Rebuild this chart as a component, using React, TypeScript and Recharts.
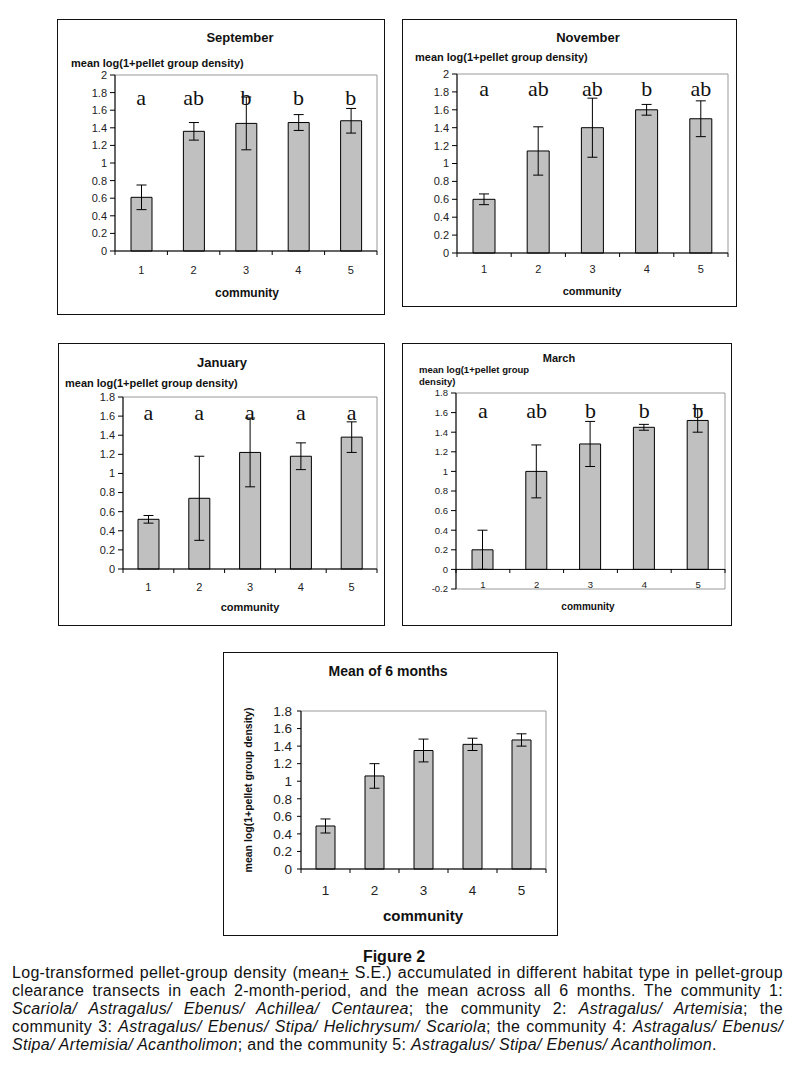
import React from "react";
import {
  ComposedChart,
  Bar,
  Line,
  XAxis,
  YAxis,
  ErrorBar,
  LabelList,
  ReferenceArea,
  ReferenceLine,
} from "recharts";

const SANS = "'Liberation Sans', Arial, sans-serif";
const SERIF = "'Liberation Serif', 'Times New Roman', serif";

// communities 1..5 on the x axis, half steps carry the tick marks between bars
const communities = [1, 2, 3, 4, 5];
const xTicks = [0.5, 1, 1.5, 2, 2.5, 3, 3.5, 4, 4.5, 5, 5.5];

const sepMeans = [0.61, 1.36, 1.45, 1.46, 1.48];
const sepErrors = [0.14, 0.1, 0.3, 0.09, 0.14];
const sepLetters = ["a", "ab", "b", "b", "b"];

const novMeans = [0.6, 1.14, 1.4, 1.6, 1.5];
const novErrors = [0.06, 0.27, 0.33, 0.06, 0.2];
const novLetters = ["a", "ab", "ab", "b", "ab"];

const janMeans = [0.52, 0.74, 1.22, 1.18, 1.38];
const janErrors = [0.04, 0.44, 0.36, 0.14, 0.16];
const janLetters = ["a", "a", "a", "a", "a"];

const marMeans = [0.2, 1.0, 1.28, 1.45, 1.52];
const marErrors = [0.2, 0.27, 0.23, 0.03, 0.12];
const marLetters = ["a", "ab", "b", "b", "b"];

const allMeans = [0.49, 1.06, 1.35, 1.42, 1.47];
const allErrors = [0.08, 0.14, 0.13, 0.07, 0.07];

const ticks0to2 = [0, 0.2, 0.4, 0.6, 0.8, 1, 1.2, 1.4, 1.6, 1.8, 2];
const ticks0to18 = [0, 0.2, 0.4, 0.6, 0.8, 1, 1.2, 1.4, 1.6, 1.8];
const ticksMar = [-0.2, 0, 0.2, 0.4, 0.6, 0.8, 1, 1.2, 1.4, 1.6, 1.8];

const Y_LABEL = "mean log(1+pellet group density)";

function buildRows(means: number[], errors: number[], letters?: string[], level?: number) {
  return communities.map((c, i) => ({
    community: c,
    mean: means[i],
    err: errors[i],
    letter: letters ? letters[i] : "",
    letterY: level,
  }));
}

const CommunityTick = (props: any) => {
  const { x, y, payload, lift, gap, fontSize } = props;
  const y0 = y - lift;
  if (payload.value % 1 !== 0) {
    return <line x1={x} x2={x} y1={y0} y2={y0 + 4} stroke="#000" />;
  }
  return (
    <text x={x} y={y0 + gap} textAnchor="middle" fontSize={fontSize} fill="#222" fontFamily={SANS}>
      {payload.value}
    </text>
  );
};

const LetterLabel = (props: any) => {
  const x = props.x ?? props.viewBox?.x;
  const y = props.y ?? props.viewBox?.y;
  if (!props.value) return null;
  return (
    <text x={x} y={y} textAnchor="middle" fontSize={22} fontFamily={SERIF} fill="#111">
      {props.value}
    </text>
  );
};

type PanelProps = {
  left: number;
  top: number;
  width: number;
  height: number;
  rows: any[];
  yDomain: [number, number];
  yTicks: number[];
  yAxisWidth: number;
  margin: { top: number; right: number; bottom: number; left: number };
  xAxisHeight: number;
  barSize: number;
  tickFont: number;
  yTickSize: number;
  yTickMargin: number;
  labelGap: number;
  lift?: number;
  zeroAxis?: boolean;
  letters?: boolean;
};

function Panel(p: PanelProps) {
  const lift = p.lift ?? 0;
  return (
    <>
      <div
        style={{
          position: "absolute",
          left: p.left,
          top: p.top,
          width: p.width,
          height: p.height,
          border: "1px solid #111",
          boxSizing: "border-box",
        }}
      />
      <div style={{ position: "absolute", left: p.left, top: p.top }}>
        <ComposedChart width={p.width} height={p.height} data={p.rows} margin={p.margin}>
          <ReferenceArea
            x1={0.5}
            x2={5.5}
            y1={p.yDomain[0]}
            y2={p.yDomain[1]}
            fill="none"
            stroke="#999"
            strokeWidth={1}
          />
          <XAxis
            dataKey="community"
            type="number"
            domain={[0.5, 5.5]}
            ticks={xTicks}
            interval={0}
            height={p.xAxisHeight}
            tickSize={0}
            tickMargin={0}
            tickLine={false}
            axisLine={p.zeroAxis ? false : { stroke: "#000" }}
            tick={(t: any) => <CommunityTick {...t} lift={lift} gap={p.labelGap} fontSize={p.tickFont} />}
          />
          <YAxis
            domain={p.yDomain}
            ticks={p.yTicks}
            interval={0}
            width={p.yAxisWidth}
            tickSize={p.yTickSize}
            tickMargin={p.yTickMargin}
            axisLine={{ stroke: "#000" }}
            tickLine={{ stroke: "#000" }}
            tick={{ fontSize: p.tickFont, fill: "#222", fontFamily: SANS }}
          />
          {p.zeroAxis && <ReferenceLine y={0} stroke="#000" strokeWidth={1} />}
          <Bar
            dataKey="mean"
            fill="#c0c0c0"
            stroke="#000"
            strokeWidth={1}
            barSize={p.barSize}
            isAnimationActive={false}
          >
            <ErrorBar dataKey="err" width={5} stroke="#000" strokeWidth={1} direction="y" isAnimationActive={false} />
          </Bar>
          {p.letters && (
            <Line
              dataKey="letterY"
              stroke="none"
              dot={false}
              activeDot={false}
              legendType="none"
              isAnimationActive={false}
            >
              <LabelList dataKey="letter" content={LetterLabel} />
            </Line>
          )}
        </ComposedChart>
      </div>
    </>
  );
}

function Centered({ x, y, size, bold = true, children }: any) {
  return (
    <div
      style={{
        position: "absolute",
        left: x,
        top: y,
        transform: "translate(-50%, -50%)",
        fontFamily: SANS,
        fontSize: size,
        fontWeight: bold ? "bold" : "normal",
        lineHeight: 1,
        whiteSpace: "nowrap",
        color: "#111",
      }}
    >
      {children}
    </div>
  );
}

function LeftText({ x, y, size, children, lineHeight = 1 }: any) {
  return (
    <div
      style={{
        position: "absolute",
        left: x,
        top: y,
        transform: "translateY(-50%)",
        fontFamily: SANS,
        fontSize: size,
        fontWeight: "bold",
        lineHeight,
        whiteSpace: "nowrap",
        color: "#111",
      }}
    >
      {children}
    </div>
  );
}

const lineStyle: React.CSSProperties = {
  height: 18,
  lineHeight: "18px",
  whiteSpace: "nowrap",
  textAlign: "justify",
  textAlignLast: "justify",
};

export default function App() {
  return (
    <div
      style={{
        position: "absolute",
        left: 0,
        top: 0,
        width: 792,
        height: 1076,
        background: "#fff",
        overflow: "hidden",
      }}
    >
      {/* September */}
      <Panel
        left={57}
        top={19}
        width={328}
        height={296}
        rows={buildRows(sepMeans, sepErrors, sepLetters, 1.66)}
        yDomain={[0, 2]}
        yTicks={ticks0to2}
        yAxisWidth={58}
        margin={{ top: 56, right: 8, bottom: 34, left: 0 }}
        xAxisHeight={30}
        barSize={21}
        tickFont={11}
        yTickSize={5}
        yTickMargin={3}
        labelGap={23}
        letters
      />
      <Centered x={240} y={37} size={13}>September</Centered>
      <LeftText x={71} y={63} size={11}>{Y_LABEL}</LeftText>
      <Centered x={247} y={293} size={12}>community</Centered>

      {/* November */}
      <Panel
        left={402}
        top={19}
        width={335}
        height={288}
        rows={buildRows(novMeans, novErrors, novLetters, 1.75)}
        yDomain={[0, 2]}
        yTicks={ticks0to2}
        yAxisWidth={55}
        margin={{ top: 55, right: 9, bottom: 24, left: 0 }}
        xAxisHeight={30}
        barSize={22}
        tickFont={11}
        yTickSize={5}
        yTickMargin={3}
        labelGap={20}
        letters
      />
      <Centered x={588} y={37} size={13}>November</Centered>
      <LeftText x={415} y={57} size={11}>{Y_LABEL}</LeftText>
      <Centered x={592} y={291} size={11}>community</Centered>

      {/* January */}
      <Panel
        left={58}
        top={343}
        width={327}
        height={283}
        rows={buildRows(janMeans, janErrors, janLetters, 1.56)}
        yDomain={[0, 1.8]}
        yTicks={ticks0to18}
        yAxisWidth={65}
        margin={{ top: 54, right: 8, bottom: 27, left: 0 }}
        xAxisHeight={30}
        barSize={21}
        tickFont={11}
        yTickSize={5}
        yTickMargin={3}
        labelGap={21.5}
        letters
      />
      <Centered x={222} y={362} size={13}>January</Centered>
      <LeftText x={65} y={383} size={11}>{Y_LABEL}</LeftText>
      <Centered x={250} y={607} size={11}>community</Centered>

      {/* March */}
      <Panel
        left={402}
        top={343}
        width={330}
        height={283}
        rows={buildRows(marMeans, marErrors, marLetters, 1.55)}
        yDomain={[-0.2, 1.8]}
        yTicks={ticksMar}
        yAxisWidth={54}
        margin={{ top: 50, right: 7, bottom: 17, left: 0 }}
        xAxisHeight={20}
        barSize={21}
        tickFont={9.5}
        yTickSize={5}
        yTickMargin={3}
        labelGap={18.5}
        lift={20}
        zeroAxis
        letters
      />
      <Centered x={559} y={358} size={11}>March</Centered>
      <LeftText x={419} y={376} size={9.5} lineHeight="12px">
        mean log(1+pellet group
        <br />
        density)
      </LeftText>
      <Centered x={588} y={607} size={10}>community</Centered>

      {/* Mean of 6 months */}
      <Panel
        left={223}
        top={652}
        width={335}
        height={284}
        rows={buildRows(allMeans, allErrors)}
        yDomain={[0, 1.8]}
        yTicks={ticks0to18}
        yAxisWidth={78}
        margin={{ top: 59, right: 12, bottom: 27, left: 0 }}
        xAxisHeight={40}
        barSize={19}
        tickFont={13.5}
        yTickSize={4}
        yTickMargin={5}
        labelGap={26}
      />
      <Centered x={388} y={671} size={14}>Mean of 6 months</Centered>
      <div
        style={{
          position: "absolute",
          left: 248,
          top: 790,
          transform: "translate(-50%, -50%) rotate(-90deg)",
          fontFamily: SANS,
          fontSize: 10.5,
          fontWeight: "bold",
          whiteSpace: "nowrap",
          lineHeight: 1,
          color: "#111",
        }}
      >
        {Y_LABEL}
      </div>
      <Centered x={423} y={915} size={15}>community</Centered>

      {/* caption */}
      <Centered x={394} y={957} size={16}>Figure 2</Centered>
      <div
        style={{
          position: "absolute",
          left: 12,
          top: 964,
          width: 771,
          fontFamily: SANS,
          fontSize: 16,
          letterSpacing: 0.3,
          color: "#111",
        }}
      >
        <div style={lineStyle}>
          Log-transformed pellet-group density (mean<u>+</u> S.E.) accumulated in different habitat type in pellet-group
        </div>
        <div style={lineStyle}>
          clearance transects in each 2-month-period, and the mean across all 6 months. The community 1:
        </div>
        <div style={lineStyle}>
          <i>Scariola/ Astragalus/ Ebenus/ Achillea/ Centaurea</i>; the community 2: <i>Astragalus/ Artemisia</i>; the
        </div>
        <div style={lineStyle}>
          community 3: <i>Astragalus/ Ebenus/ Stipa/ Helichrysum/ Scariola</i>; the community 4: <i>Astragalus/ Ebenus/</i>
        </div>
        <div style={{ ...lineStyle, textAlign: "left", textAlignLast: "left" }}>
          <i>Stipa/ Artemisia/ Acantholimon</i>; and the community 5: <i>Astragalus/ Stipa/ Ebenus/ Acantholimon</i>.
        </div>
      </div>
    </div>
  );
}
